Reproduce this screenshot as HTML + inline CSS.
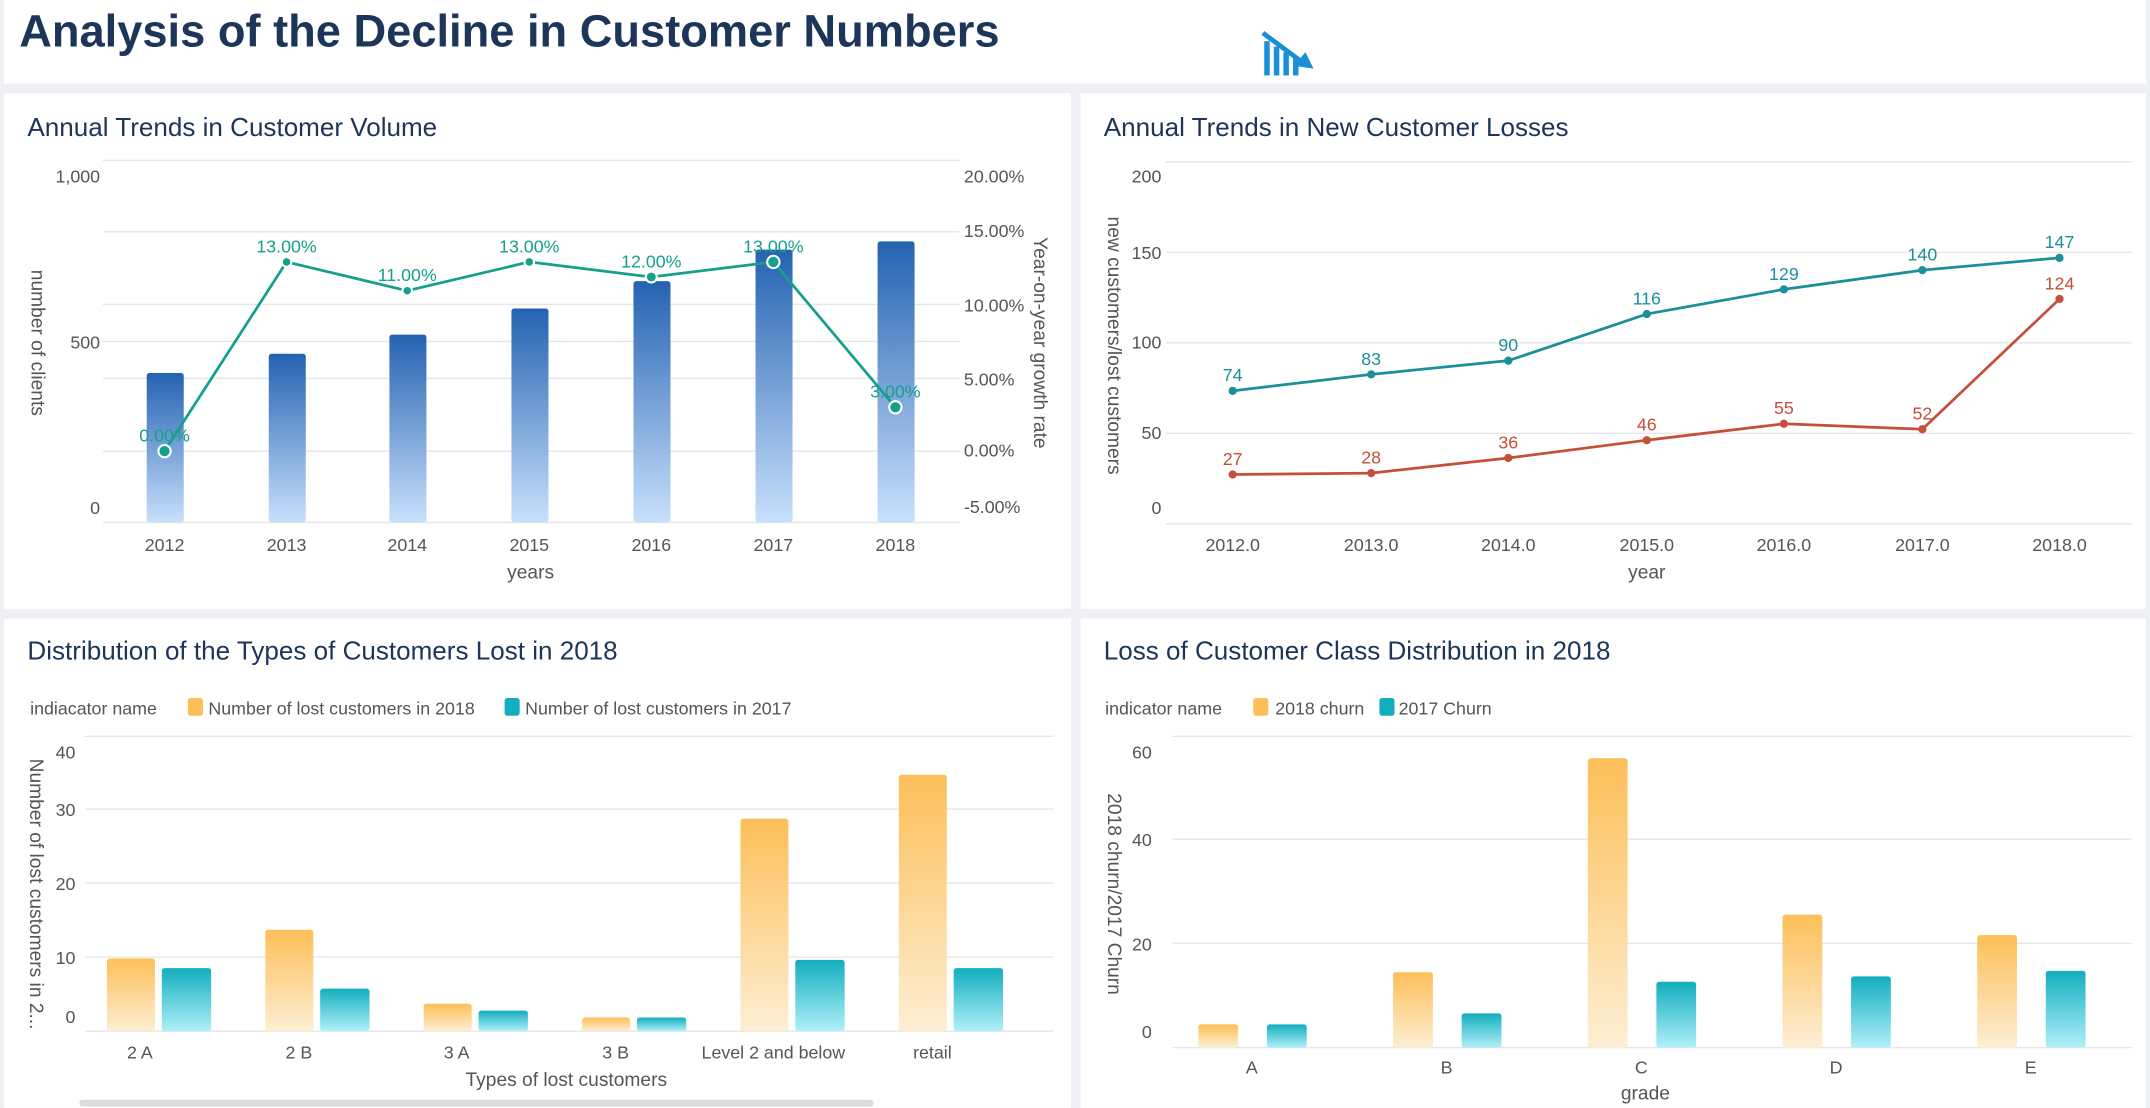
<!DOCTYPE html>
<html><head><meta charset="utf-8"><style>
html,body{margin:0;padding:0;background:#eef0f5;}
svg{display:block;}
text{font-family:"Liberation Sans","Noto Sans CJK SC",sans-serif;}
</style></head><body>
<svg width="2150" height="1108" viewBox="0 0 1568 808" xmlns="http://www.w3.org/2000/svg">
<defs>
<linearGradient id="gb" x1="0" y1="0" x2="0" y2="1"><stop offset="0" stop-color="#2462b1"/><stop offset="1" stop-color="#c8e0fc"/></linearGradient>
<linearGradient id="go" x1="0" y1="0" x2="0" y2="1"><stop offset="0" stop-color="#fdbf58"/><stop offset="1" stop-color="#fdeed4"/></linearGradient>
<linearGradient id="gt" x1="0" y1="0" x2="0" y2="1"><stop offset="0" stop-color="#12aebe"/><stop offset="1" stop-color="#b0f0f9"/></linearGradient>
</defs>
<rect width="1568" height="808" fill="#eef0f5"/>
<rect x="3" y="0" width="1562" height="61" fill="#fff"/>
<text x="14" y="34" font-size="33" font-weight="bold" fill="#1c3558">Analysis of the Decline in Customer Numbers</text>
<g fill="#1a8fd6">
<rect x="922" y="30" width="4" height="25"/><rect x="929" y="34" width="4" height="21"/><rect x="936" y="38" width="4" height="17"/><rect x="943" y="42" width="4" height="13"/>
<path d="M921 24 L948 44" stroke="#1a8fd6" stroke-width="3.5" fill="none"/><path d="M944 48 L958 50 L952 38 Z"/>
</g>
<rect x="3" y="68" width="778" height="376" fill="#fff"/>
<rect x="788" y="68" width="777" height="376" fill="#fff"/>
<rect x="3" y="451" width="778" height="357" fill="#fff"/>
<rect x="788" y="451" width="777" height="357" fill="#fff"/>

<!-- TL -->
<text x="20" y="99" font-size="19" fill="#1c3558">Annual Trends in Customer Volume</text>
<g stroke="#e6e6e6" stroke-width="1">
<line x1="75" x2="700" y1="117" y2="117"/><line x1="75" x2="700" y1="169" y2="169"/><line x1="75" x2="700" y1="222" y2="222"/><line x1="75" x2="700" y1="249" y2="249"/><line x1="75" x2="700" y1="276" y2="276"/><line x1="75" x2="700" y1="329" y2="329"/><line x1="75" x2="700" y1="381" y2="381"/>
</g>
<g font-size="13" fill="#555" text-anchor="end">
<text x="73" y="133">1,000</text><text x="73" y="254">500</text><text x="73" y="375">0</text>
</g>
<g font-size="13" fill="#555">
<text x="703" y="133">20.00%</text><text x="703" y="173">15.00%</text><text x="703" y="227">10.00%</text><text x="703" y="281">5.00%</text><text x="703" y="333">0.00%</text><text x="703" y="374">-5.00%</text>
</g>
<text transform="translate(23,250) rotate(90)" font-size="14" fill="#555" text-anchor="middle">number of clients</text>
<text transform="translate(754,250) rotate(90)" font-size="14" fill="#555" text-anchor="middle">Year-on-year growth rate</text>
<g fill="url(#gb)">
<rect x="107" y="272" width="27" height="109" rx="2"/><rect x="196" y="258" width="27" height="123" rx="2"/><rect x="284" y="244" width="27" height="137" rx="2"/><rect x="373" y="225" width="27" height="156" rx="2"/><rect x="462" y="205" width="27" height="176" rx="2"/><rect x="551" y="182" width="27" height="199" rx="2"/><rect x="640" y="176" width="27" height="205" rx="2"/>
</g>
<polyline points="120,329 209,191 297,212 386,191 475,202 564,191 653,297" fill="none" stroke="#14a08c" stroke-width="2"/>
<g fill="#14a08c" stroke="#fff" stroke-width="1.5">
<circle cx="120" cy="329" r="4.5"/><circle cx="209" cy="191" r="3.5"/><circle cx="297" cy="212" r="3.5"/><circle cx="386" cy="191" r="3.5"/><circle cx="475" cy="202" r="4"/><circle cx="564" cy="191" r="4.5"/><circle cx="653" cy="297" r="4.5"/>
</g>
<g font-size="13" fill="#14a08c" text-anchor="middle">
<text x="120" y="322">0.00%</text><text x="209" y="184">13.00%</text><text x="297" y="205">11.00%</text><text x="386" y="184">13.00%</text><text x="475" y="195">12.00%</text><text x="564" y="184">13.00%</text><text x="653" y="290">3.00%</text>
</g>
<g font-size="13" fill="#555" text-anchor="middle">
<text x="120" y="402">2012</text><text x="209" y="402">2013</text><text x="297" y="402">2014</text><text x="386" y="402">2015</text><text x="475" y="402">2016</text><text x="564" y="402">2017</text><text x="653" y="402">2018</text>
<text x="387" y="422" font-size="14">years</text>
</g>

<!-- TR -->
<text x="805" y="99" font-size="19" fill="#1c3558">Annual Trends in New Customer Losses</text>
<g stroke="#e6e6e6">
<line x1="850" x2="1555" y1="118" y2="118"/><line x1="850" x2="1555" y1="184" y2="184"/><line x1="850" x2="1555" y1="250" y2="250"/><line x1="850" x2="1555" y1="316" y2="316"/><line x1="850" x2="1555" y1="382" y2="382"/>
</g>
<g font-size="13" fill="#555" text-anchor="end">
<text x="847" y="133">200</text><text x="847" y="189">150</text><text x="847" y="254">100</text><text x="847" y="320">50</text><text x="847" y="375">0</text>
</g>
<text transform="translate(808,252) rotate(90)" font-size="14" fill="#555" text-anchor="middle">new customers/lost customers</text>
<polyline points="899,285 1000,273 1100,263 1201,229 1301,211 1402,197 1502,188" fill="none" stroke="#1b8f9a" stroke-width="2"/>
<polyline points="899,346 1000,345 1100,334 1201,321 1301,309 1402,313 1502,218" fill="none" stroke="#c4503a" stroke-width="2"/>
<g fill="#1b8f9a"><circle cx="899" cy="285" r="3"/><circle cx="1000" cy="273" r="3"/><circle cx="1100" cy="263" r="3"/><circle cx="1201" cy="229" r="3"/><circle cx="1301" cy="211" r="3"/><circle cx="1402" cy="197" r="3"/><circle cx="1502" cy="188" r="3"/></g>
<g fill="#c4503a"><circle cx="899" cy="346" r="3"/><circle cx="1000" cy="345" r="3"/><circle cx="1100" cy="334" r="3"/><circle cx="1201" cy="321" r="3"/><circle cx="1301" cy="309" r="3"/><circle cx="1402" cy="313" r="3"/><circle cx="1502" cy="218" r="3"/></g>
<g font-size="13" fill="#1b8f9a" text-anchor="middle">
<text x="899" y="278">74</text><text x="1000" y="266">83</text><text x="1100" y="256">90</text><text x="1201" y="222">116</text><text x="1301" y="204">129</text><text x="1402" y="190">140</text><text x="1502" y="181">147</text>
</g>
<g font-size="13" fill="#c4503a" text-anchor="middle">
<text x="899" y="339">27</text><text x="1000" y="338">28</text><text x="1100" y="327">36</text><text x="1201" y="314">46</text><text x="1301" y="302">55</text><text x="1402" y="306">52</text><text x="1502" y="211">124</text>
</g>
<g font-size="13" fill="#555" text-anchor="middle">
<text x="899" y="402">2012.0</text><text x="1000" y="402">2013.0</text><text x="1100" y="402">2014.0</text><text x="1201" y="402">2015.0</text><text x="1301" y="402">2016.0</text><text x="1402" y="402">2017.0</text><text x="1502" y="402">2018.0</text>
<text x="1201" y="422" font-size="14">year</text>
</g>

<!-- BL -->
<text x="20" y="481" font-size="19" fill="#1c3558">Distribution of the Types of Customers Lost in 2018</text>
<g font-size="13" fill="#555">
<text x="22" y="521">indiacator name</text>
<rect x="137" y="509" width="11" height="13" rx="2" fill="#fdbf58"/><text x="152" y="521">Number of lost customers in 2018</text>
<rect x="368" y="509" width="11" height="13" rx="2" fill="#12aebe"/><text x="383" y="521">Number of lost customers in 2017</text>
</g>
<g stroke="#e6e6e6">
<line x1="62" x2="768" y1="537" y2="537"/><line x1="62" x2="768" y1="590" y2="590"/><line x1="62" x2="768" y1="644" y2="644"/><line x1="62" x2="768" y1="698" y2="698"/><line x1="62" x2="768" y1="752" y2="752"/>
</g>
<g font-size="13" fill="#555" text-anchor="end">
<text x="55" y="553">40</text><text x="55" y="595">30</text><text x="55" y="649">20</text><text x="55" y="703">10</text><text x="55" y="746">0</text>
</g>
<text transform="translate(22,652) rotate(90)" font-size="14" fill="#555" text-anchor="middle">Number of lost customers in 2...</text>
<g fill="url(#go)">
<rect x="78" y="699" width="35" height="53" rx="2"/><rect x="193.5" y="678" width="35" height="74" rx="2"/><rect x="309" y="732" width="35" height="20" rx="2"/><rect x="424.5" y="742" width="35" height="10" rx="2"/><rect x="540" y="597" width="35" height="155" rx="2"/><rect x="655.5" y="565" width="35" height="187" rx="2"/>
</g>
<g fill="url(#gt)">
<rect x="118" y="706" width="36" height="46" rx="2"/><rect x="233.5" y="721" width="36" height="31" rx="2"/><rect x="349" y="737" width="36" height="15" rx="2"/><rect x="464.5" y="742" width="36" height="10" rx="2"/><rect x="580" y="700" width="36" height="52" rx="2"/><rect x="695.5" y="706" width="36" height="46" rx="2"/>
</g>
<g font-size="13" fill="#555" text-anchor="middle">
<text x="102" y="772">2 A</text><text x="218" y="772">2 B</text><text x="333" y="772">3 A</text><text x="449" y="772">3 B</text><text x="564" y="772">Level 2 and below</text><text x="680" y="772">retail</text>
<text x="413" y="792" font-size="14">Types of lost customers</text>
</g>
<rect x="58" y="802" width="579" height="5" rx="2" fill="#dcdcdc"/>

<!-- BR -->
<text x="805" y="481" font-size="19" fill="#1c3558">Loss of Customer Class Distribution in 2018</text>
<g font-size="13" fill="#555">
<text x="806" y="521">indicator name</text>
<rect x="914" y="509" width="11" height="13" rx="2" fill="#fdbf58"/><text x="930" y="521">2018 churn</text>
<rect x="1006" y="509" width="11" height="13" rx="2" fill="#12aebe"/><text x="1020" y="521">2017 Churn</text>
</g>
<g stroke="#e6e6e6">
<line x1="855" x2="1555" y1="537" y2="537"/><line x1="855" x2="1555" y1="612" y2="612"/><line x1="855" x2="1555" y1="688" y2="688"/><line x1="855" x2="1555" y1="764" y2="764"/>
</g>
<g font-size="13" fill="#555" text-anchor="end">
<text x="840" y="553">60</text><text x="840" y="617">40</text><text x="840" y="693">20</text><text x="840" y="757">0</text>
</g>
<text transform="translate(808,652) rotate(90)" font-size="14" fill="#555" text-anchor="middle">2018 churn/2017 Churn</text>
<g fill="url(#go)">
<rect x="874" y="747" width="29" height="17" rx="2"/><rect x="1016" y="709" width="29" height="55" rx="2"/><rect x="1158" y="553" width="29" height="211" rx="2"/><rect x="1300" y="667" width="29" height="97" rx="2"/><rect x="1442" y="682" width="29" height="82" rx="2"/>
</g>
<g fill="url(#gt)">
<rect x="924" y="747" width="29" height="17" rx="2"/><rect x="1066" y="739" width="29" height="25" rx="2"/><rect x="1208" y="716" width="29" height="48" rx="2"/><rect x="1350" y="712" width="29" height="52" rx="2"/><rect x="1492" y="708" width="29" height="56" rx="2"/>
</g>
<g font-size="13" fill="#555" text-anchor="middle">
<text x="913" y="783">A</text><text x="1055" y="783">B</text><text x="1197" y="783">C</text><text x="1339" y="783">D</text><text x="1481" y="783">E</text>
<text x="1200" y="802" font-size="14">grade</text>
</g>
</svg>
</body></html>
